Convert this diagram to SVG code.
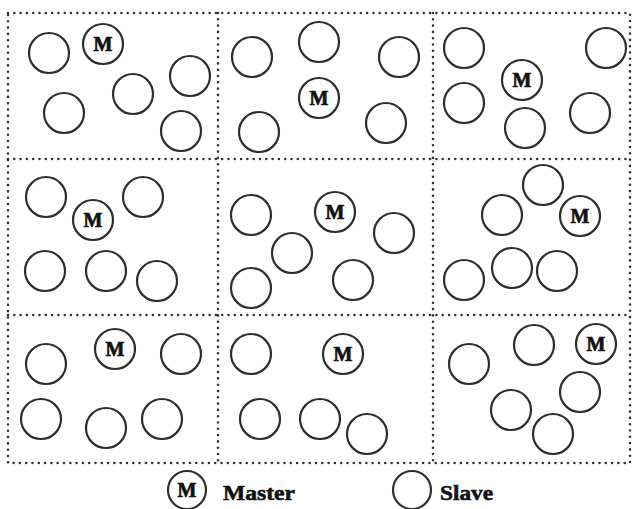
<svg xmlns="http://www.w3.org/2000/svg" width="632" height="509" viewBox="0 0 632 509">
<style>
.grid{fill:none;stroke:#333;stroke-width:2.6;stroke-dasharray:0 6.3;stroke-linecap:round}
.n circle{fill:#fff;stroke:#2e2e2e;stroke-width:2.2}
.n text{font-family:"Liberation Serif",serif;font-weight:bold;font-size:20px;text-anchor:middle;fill:#111;stroke:#111;stroke-width:0.7}
.n text.lbl{font-size:22px;text-anchor:start;stroke-width:0.6}
</style>
<rect width="632" height="509" fill="#fff"/>
<g id="grid" class="grid">
<path d="M8 13H630V463H8Z"/>
<path d="M218 13V463M433 13V463M8 159H630M8 315H630"/>
</g>
<g id="connectors"></g>
<!-- cell 1 -->
<g id="c1" class="n">
<g id="c1-m"><circle cx="103" cy="44" r="20"/><text x="103" y="51">M</text></g>
<g id="c1-s1"><circle cx="49" cy="53" r="20"/></g>
<g id="c1-s2"><circle cx="190" cy="76" r="20"/></g>
<g id="c1-s3"><circle cx="133" cy="94" r="20"/></g>
<g id="c1-s4"><circle cx="64" cy="113" r="20"/></g>
<g id="c1-s5"><circle cx="181" cy="131" r="20"/></g>
</g>
<!-- cell 2 -->
<g id="c2" class="n">
<g id="c2-m"><circle cx="319" cy="98" r="20"/><text x="319" y="105">M</text></g>
<g id="c2-s1"><circle cx="252" cy="57" r="20"/></g>
<g id="c2-s2"><circle cx="319" cy="42" r="20"/></g>
<g id="c2-s3"><circle cx="399" cy="57" r="20"/></g>
<g id="c2-s4"><circle cx="259" cy="132" r="20"/></g>
<g id="c2-s5"><circle cx="386" cy="123" r="20"/></g>
</g>
<!-- cell 3 -->
<g id="c3" class="n">
<g id="c3-m"><circle cx="522" cy="80" r="20"/><text x="522" y="87">M</text></g>
<g id="c3-s1"><circle cx="464" cy="48" r="20"/></g>
<g id="c3-s2"><circle cx="606" cy="48" r="20"/></g>
<g id="c3-s3"><circle cx="464" cy="103" r="20"/></g>
<g id="c3-s4"><circle cx="525" cy="128" r="20"/></g>
<g id="c3-s5"><circle cx="590" cy="113" r="20"/></g>
</g>
<!-- cell 4 -->
<g id="c4" class="n">
<g id="c4-m"><circle cx="93" cy="220" r="20"/><text x="93" y="227">M</text></g>
<g id="c4-s1"><circle cx="46" cy="197" r="20"/></g>
<g id="c4-s2"><circle cx="143" cy="197" r="20"/></g>
<g id="c4-s3"><circle cx="45" cy="271" r="20"/></g>
<g id="c4-s4"><circle cx="106" cy="271" r="20"/></g>
<g id="c4-s5"><circle cx="157" cy="281" r="20"/></g>
</g>
<!-- cell 5 -->
<g id="c5" class="n">
<g id="c5-m"><circle cx="335" cy="212" r="20"/><text x="335" y="219">M</text></g>
<g id="c5-s1"><circle cx="251" cy="215" r="20"/></g>
<g id="c5-s2"><circle cx="394" cy="233" r="20"/></g>
<g id="c5-s3"><circle cx="292" cy="253" r="20"/></g>
<g id="c5-s4"><circle cx="251" cy="288" r="20"/></g>
<g id="c5-s5"><circle cx="353" cy="280" r="20"/></g>
</g>
<!-- cell 6 -->
<g id="c6" class="n">
<g id="c6-m"><circle cx="580" cy="216" r="20"/><text x="580" y="223">M</text></g>
<g id="c6-s1"><circle cx="543" cy="185" r="20"/></g>
<g id="c6-s2"><circle cx="502" cy="215" r="20"/></g>
<g id="c6-s3"><circle cx="464" cy="280" r="20"/></g>
<g id="c6-s4"><circle cx="512" cy="268" r="20"/></g>
<g id="c6-s5"><circle cx="557" cy="271" r="20"/></g>
</g>
<!-- cell 7 -->
<g id="c7" class="n">
<g id="c7-m"><circle cx="115" cy="349" r="20"/><text x="115" y="356">M</text></g>
<g id="c7-s1"><circle cx="46" cy="364" r="20"/></g>
<g id="c7-s2"><circle cx="181" cy="354" r="20"/></g>
<g id="c7-s3"><circle cx="41" cy="419" r="20"/></g>
<g id="c7-s4"><circle cx="106" cy="428" r="20"/></g>
<g id="c7-s5"><circle cx="162" cy="419" r="20"/></g>
</g>
<!-- cell 8 -->
<g id="c8" class="n">
<g id="c8-m"><circle cx="343" cy="354" r="20"/><text x="343" y="361">M</text></g>
<g id="c8-s1"><circle cx="251" cy="354" r="20"/></g>
<g id="c8-s2"><circle cx="260" cy="419" r="20"/></g>
<g id="c8-s3"><circle cx="320" cy="419" r="20"/></g>
<g id="c8-s4"><circle cx="367" cy="434" r="20"/></g>
</g>
<!-- cell 9 -->
<g id="c9" class="n">
<g id="c9-m"><circle cx="596" cy="344" r="20"/><text x="596" y="351">M</text></g>
<g id="c9-s1"><circle cx="469" cy="364" r="20"/></g>
<g id="c9-s2"><circle cx="534" cy="345" r="20"/></g>
<g id="c9-s3"><circle cx="580" cy="392" r="20"/></g>
<g id="c9-s4"><circle cx="511" cy="410" r="20"/></g>
<g id="c9-s5"><circle cx="553" cy="434" r="20"/></g>
</g>
<!-- legend -->
<g id="legend-master" class="n">
<circle cx="187" cy="490" r="19"/><text x="187" y="497">M</text>
<text class="lbl" x="223" y="500" textLength="72" lengthAdjust="spacingAndGlyphs">Master</text>
</g>
<g id="legend-slave" class="n">
<circle cx="412" cy="490" r="19"/>
<text class="lbl" x="440" y="500" textLength="53" lengthAdjust="spacingAndGlyphs">Slave</text>
</g>
</svg>
